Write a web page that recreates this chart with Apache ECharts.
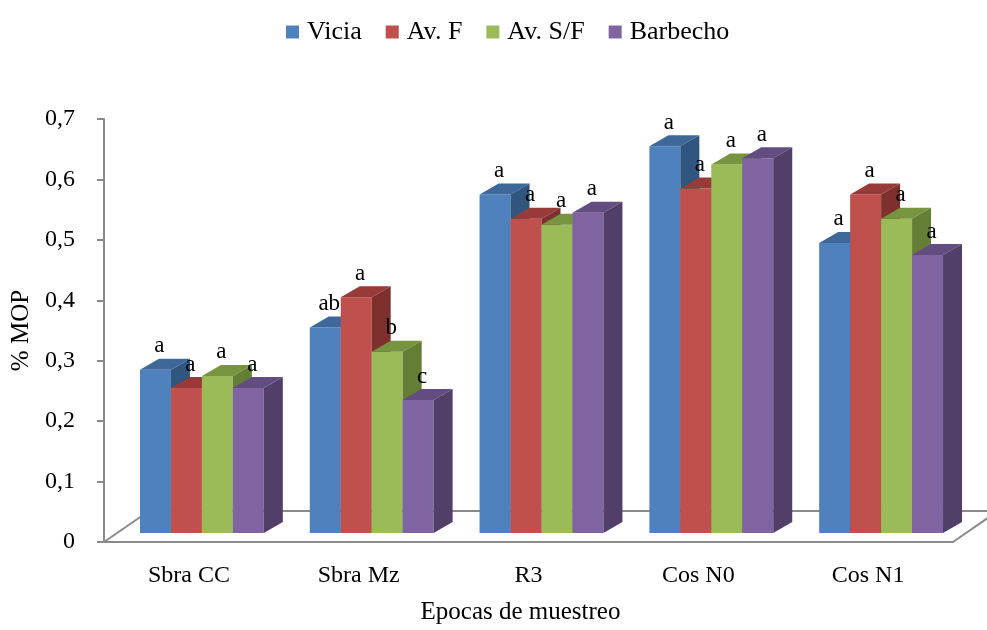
<!DOCTYPE html>
<html>
<head>
<meta charset="utf-8">
<script src="https://cdn.jsdelivr.net/npm/echarts@6/dist/echarts.min.js"></script>
<style>html,body{margin:0;padding:0;background:#fff;overflow:hidden}#c{position:absolute;left:0;top:0;width:987px;height:630px}</style>
</head>
<body>
<div id="c"></div>
<script>
const categories = ['Sbra CC', 'Sbra Mz', 'R3', 'Cos N0', 'Cos N1'];
const seriesNames = ['Vicia', 'Av. F', 'Av. S/F', 'Barbecho'];
const vicia    = [0.27, 0.34, 0.56, 0.64, 0.48];
const avF      = [0.24, 0.39, 0.52, 0.57, 0.56];
const avSF     = [0.26, 0.30, 0.51, 0.61, 0.52];
const barbecho = [0.24, 0.22, 0.53, 0.62, 0.46];
const letters = [
  ['a', 'ab', 'a', 'a', 'a'],
  ['a', 'a', 'a', 'a', 'a'],
  ['a', 'b', 'a', 'a', 'a'],
  ['a', 'c', 'a', 'a', 'a']
];
const yTicks = [0, 0.1, 0.2, 0.3, 0.4, 0.5, 0.6, 0.7];

const allValues = [vicia, avF, avSF, barbecho];
const faceColors = [
  {front: '#4F81BD', top: '#3D6899', side: '#30557F'},
  {front: '#C0504D', top: '#983A38', side: '#7E302E'},
  {front: '#9BBB59', top: '#779440', side: '#647E36'},
  {front: '#8064A2', top: '#634C80', side: '#523F69'}
];
const FONT = 'Liberation Serif';
const GREY = '#8A8A8A';

// depth geometry (pixels)
const BAR_FRAC = 31 / 170;
const SHIFT_X = 13, SHIFT_Y = -9;   // bar plane offset from floor front
const DEPTH_X = 19, DEPTH_Y = -11;  // bar depth
const FLOOR_X = 45, FLOOR_Y = -31;  // floor depth

function renderBar(params, api) {
  const si = seriesNames.indexOf(params.seriesName);
  const cat = api.value(0), v = api.value(1);
  const base = api.coord([cat, 0]);
  const band = api.size([1, 0])[0];
  const h = api.size([0, v])[1];
  const bw = band * BAR_FRAC;
  const x = base[0] - 2 * bw + si * bw + SHIFT_X;
  const yb = base[1] + SHIFT_Y;
  const yt = yb - h;
  const c = faceColors[si];
  return {
    type: 'group',
    children: [
      {type: 'rect', shape: {x: x, y: yt, width: bw, height: h}, style: {fill: c.front}},
      {type: 'polygon', shape: {points: [[x, yt], [x + bw, yt], [x + bw + DEPTH_X, yt + DEPTH_Y], [x + DEPTH_X, yt + DEPTH_Y]]}, style: {fill: c.top}},
      {type: 'polygon', shape: {points: [[x + bw, yt], [x + bw + DEPTH_X, yt + DEPTH_Y], [x + bw + DEPTH_X, yb + DEPTH_Y], [x + bw, yb]]}, style: {fill: c.side}},
      {type: 'text', style: {text: letters[si][cat], x: x + bw / 2 + 4, y: yt + DEPTH_Y - 1, align: 'center', verticalAlign: 'bottom', font: '23px "' + FONT + '"', fill: '#000'}}
    ]
  };
}

function renderFloor(params, api) {
  const band = api.size([1, 0])[0];
  const p0 = api.coord([0, 0]);
  const p1 = api.coord([categories.length - 1, 0]);
  const xl = p0[0] - band / 2, xr = p1[0] + band / 2, y = p0[1];
  const st = {stroke: GREY, lineWidth: 2, fill: null};
  return {
    type: 'group',
    children: [
      {type: 'line', shape: {x1: xl, y1: y, x2: xl + FLOOR_X, y2: y + FLOOR_Y}, style: st},
      {type: 'line', shape: {x1: xl + FLOOR_X, y1: y + FLOOR_Y, x2: xr + FLOOR_X, y2: y + FLOOR_Y}, style: st},
      {type: 'line', shape: {x1: xr, y1: y, x2: xr + FLOOR_X, y2: y + FLOOR_Y}, style: st}
    ]
  };
}

const series = [];
seriesNames.forEach((n, i) => {
  series.push({
    type: 'custom', name: n, z: 3 + i,
    itemStyle: {color: faceColors[i].front},
    renderItem: renderBar,
    encode: {x: 0, y: 1},
    data: allValues[i].map((v, k) => [k, v])
  });
});
series.push({
  type: 'custom', name: 'floor', z: 1, silent: true,
  renderItem: renderFloor, data: [[0, 0]], encode: {x: 0, y: 1}
});

const chart = echarts.init(document.getElementById('c'), null, {renderer: 'canvas', width: 987, height: 630});
chart.setOption({
  animation: false,
  backgroundColor: '#fff',
  textStyle: {fontFamily: FONT},
  legend: {
    data: seriesNames, top: 14, left: 281, icon: 'rect',
    itemWidth: 13, itemHeight: 13, itemGap: 24,
    textStyle: {fontFamily: FONT, fontSize: 26, color: '#000', padding: [0, 0, 0, 3]}
  },
  grid: {left: 104, right: 34, top: 119, bottom: 84, containLabel: false},
  xAxis: {
    type: 'category', data: categories, boundaryGap: true,
    axisLine: {show: true, lineStyle: {color: GREY, width: 2}},
    axisTick: {show: false},
    axisLabel: {fontFamily: FONT, fontSize: 24, color: '#000', margin: 22},
    name: 'Epocas de muestreo', nameLocation: 'middle', nameGap: 58,
    nameTextStyle: {fontFamily: FONT, fontSize: 25, color: '#000', padding: [0, 16, 0, 0]}
  },
  yAxis: {
    type: 'value', min: 0, max: 0.7, interval: 0.1,
    axisLine: {show: true, lineStyle: {color: GREY, width: 2}},
    axisTick: {show: true, inside: false, length: 7, lineStyle: {color: GREY, width: 2}},
    splitLine: {show: false},
    axisLabel: {
      fontFamily: FONT, fontSize: 24, color: '#000', margin: 29,
      formatter: v => {
        const t = yTicks.find(k => Math.abs(k - v) < 1e-9);
        return t === 0 ? '0' : String(+(t !== undefined ? t : v).toFixed(1)).replace('.', ',');
      }
    },
    name: '% MOP', nameLocation: 'middle', nameGap: 70, nameRotate: 90,
    nameTextStyle: {fontFamily: FONT, fontSize: 25, color: '#000'}
  },
  series: series
});
</script>
</body>
</html>
